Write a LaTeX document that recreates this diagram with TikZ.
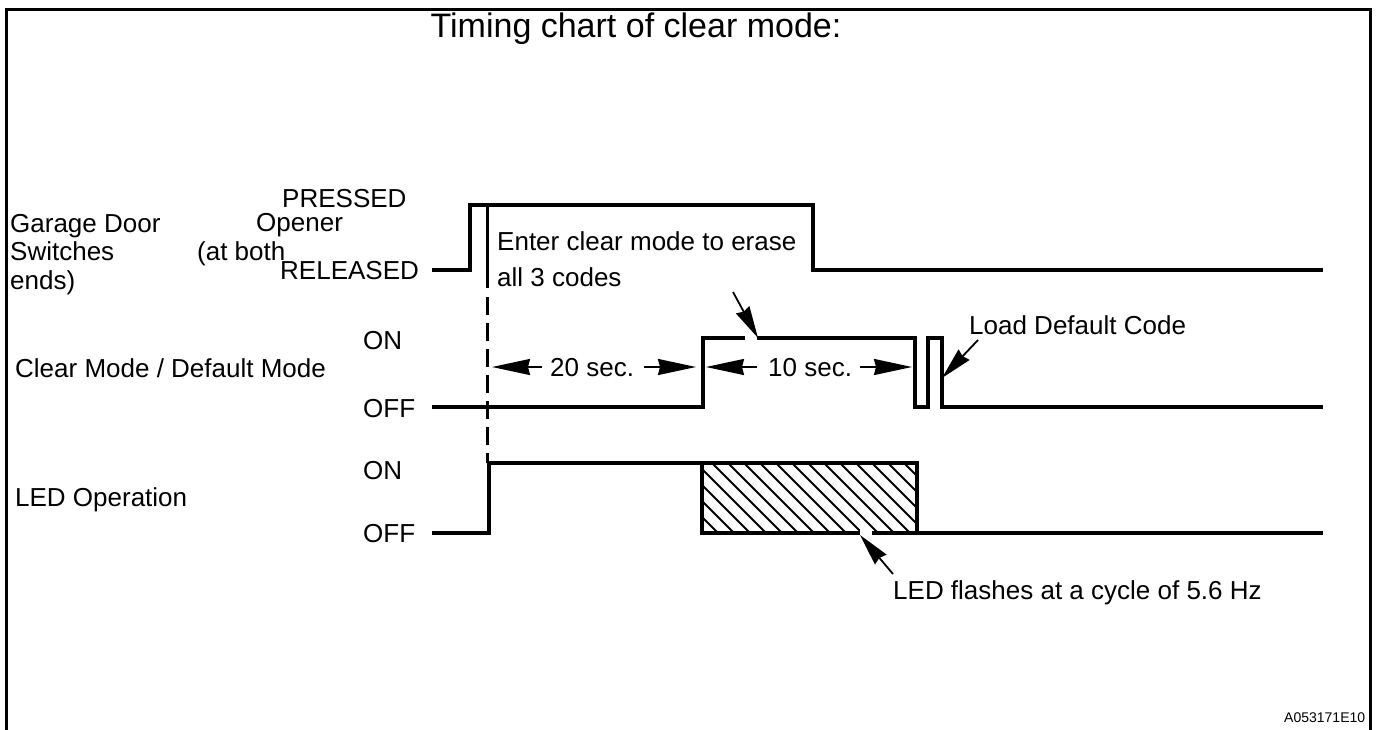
\documentclass[tikz,border=0pt]{standalone}
\usepackage{fontspec}
\setmainfont{Liberation Sans}
\usetikzlibrary{arrows.meta}
\begin{document}
\begin{tikzpicture}[x=1pt,y=-1pt,
  lbl/.style={anchor=base west,inner sep=0pt,font=\fontsize{26}{30}\selectfont},
  sig/.style={line width=3.5pt,line join=miter,line cap=butt},
  frame/.style={line width=3pt},
  dim/.style={line width=1.8pt,-{Stealth[length=38pt,width=16pt,inset=2pt]}},
  callout/.style={line width=1.8pt,-{Stealth[length=32pt,width=15pt,inset=2pt]}},
  hatch/.style={line width=2pt}]
\useasboundingbox (0,0) rectangle (1376,730);
% frame
\draw[frame] (6,730) -- (6,10) -- (1370,10) -- (1370,730);
% title
\node[anchor=base,inner sep=0pt,font=\fontsize{34}{40}\selectfont] (title) at (636,38) {Timing chart of clear mode:};
% row 1 labels
\node[lbl] (pressed) at (282,208) {PRESSED};
\node[lbl] (gd) at (10,233) {Garage Door};
\node[lbl] (op) at (256,232) {Opener};
\node[lbl] (sw) at (10,261) {Switches};
\node[lbl] (ab) at (197,260) {(at both};
\node[lbl] (rel) at (280,279) {RELEASED};
\node[lbl] (ends) at (10,289) {ends)};
\node[lbl] (enter) at (497,251) {Enter clear mode to erase};
\node[lbl] (all) at (497,286) {all 3 codes};
% row 2 labels
\node[lbl] (on2) at (363,349) {ON};
\node[lbl] (cm) at (15,377) {Clear Mode / Default Mode};
\node[lbl] (off2) at (363,417) {OFF};
\node[lbl] (t20) at (550,376) {20 sec.};
\node[lbl] (t10) at (768,376) {10 sec.};
\node[lbl] (load) at (969,334) {Load Default Code};
% row 3 labels
\node[lbl] (on3) at (363,479) {ON};
\node[lbl] (led) at (15,506) {LED Operation};
\node[lbl] (off3) at (363,542) {OFF};
\node[lbl] (flash) at (893,599) {LED flashes at a cycle of 5.6 Hz};
\node[anchor=base west,inner sep=0pt,font=\fontsize{14}{16}\selectfont] (code) at (1284,722) {A053171E10};
% row 1 signal
\draw[sig] (432,270) -- (470,270) -- (470,205) -- (813,205) -- (813,270) -- (1323,270);
% marker line (solid then dashed)
\draw[line width=3pt] (487,205) -- (487,288);
\draw[line width=3pt,dash pattern=on 18pt off 8pt] (487,297) -- (487,463);
% row 2 signal
\draw[sig] (432,407) -- (703,407) -- (703,338) -- (915,338) -- (915,407) -- (928,407) -- (928,338) -- (942,338) -- (942,407) -- (1323,407);
% row 3 signal
\draw[sig] (432,533) -- (489,533) -- (489,463) -- (917,463) -- (917,533) -- (1323,533);
\draw[sig] (702,463) -- (702,533) -- (917,533);
\begin{scope}
\clip (702,463) rectangle (917,533);
\foreach \i in {0,...,19} {
  \draw[hatch] ({632+16*\i},463) -- ({702+16*\i},533);
}
\end{scope}
% dimension arrows
\coordinate (d20l) at (492,367);
\coordinate (d20r) at (696,367);
\coordinate (d10l) at (706,367);
\coordinate (d10r) at (912,367);
\draw[dim] (542,367) -- (d20l);
\draw[dim] (644,367) -- (d20r);
\draw[dim] (757,367) -- (d10l);
\draw[dim] (860,367) -- (d10r);
% callouts with white gaps
\draw[white,line width=6pt] (745,338) -- (757,338);
\draw[white,line width=6pt] (860,533) -- (872,533);
\coordinate (c1a) at (733,292);
\coordinate (c1b) at (758,338);
\coordinate (c2a) at (978,340);
\coordinate (c2b) at (942,378);
\coordinate (c3a) at (893,574);
\coordinate (c3b) at (860,535);
\draw[callout] (c1a) -- (c1b);
\draw[callout] (c2a) -- (c2b);
\draw[callout] (c3a) -- (c3b);
\end{tikzpicture}
\end{document}
